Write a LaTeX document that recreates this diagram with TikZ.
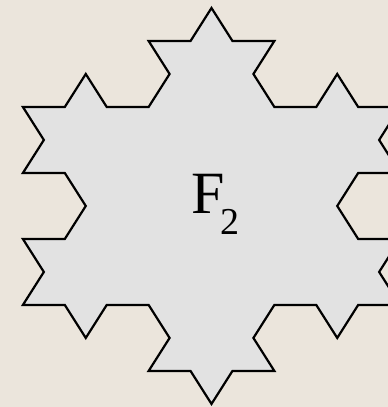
\documentclass[tikz,border=0pt]{standalone}
\usepackage{fontspec}
\setmainfont{Liberation Serif}
\usetikzlibrary{patterns.meta}
\pgfdeclarepattern{name=finedots, type=uncolored,
  bottom left={\pgfpoint{-1pt}{-1pt}}, top right={\pgfpoint{1pt}{1pt}},
  tile size={\pgfpoint{2pt}{2pt}},
  code={\pgfpathcircle{\pgfpointorigin}{0.45pt}\pgfusepath{fill}}}
\definecolor{bgbeige}{RGB}{235,229,220}
\definecolor{fillgrey}{RGB}{236,236,236}
\definecolor{dotgrey}{RGB}{120,120,120}
\tikzset{
  outline/.style={draw=black, line width=2.2pt, line join=miter},
  label text/.style={inner sep=0pt, anchor=base west}
}
\begin{document}
\begin{tikzpicture}[x=1pt,y=1pt]
\useasboundingbox (0,0) rectangle (388,407);
\fill[bgbeige] (0,0) rectangle (388,407);
\begin{scope}[shift={(211.5,201)}, xscale=1.1]
  \def\kochpath{(0,198) \foreach \a in {
    -60,0,-120,-60, 0,60,-60,0, -120,-60,-180,-120, -60,0,-120,-60,
    180,240,120,180, 240,300,180,240, 120,180,60,120, 180,240,120,180,
    60,120,0,60, 120,180,60,120, 0,60,-60,0, 60,120,0} { -- ++(\a:38.1) } -- cycle}
  \fill[fillgrey] \kochpath;
  \fill[pattern=finedots, pattern color=dotgrey] \kochpath;
  \draw[outline] \kochpath;
\end{scope}
\node[label text] (f2) at (191,193) {\fontsize{60}{60}\selectfont F\kern-4pt\raisebox{-21pt}{\fontsize{38}{38}\selectfont 2}};
\end{tikzpicture}
\end{document}
